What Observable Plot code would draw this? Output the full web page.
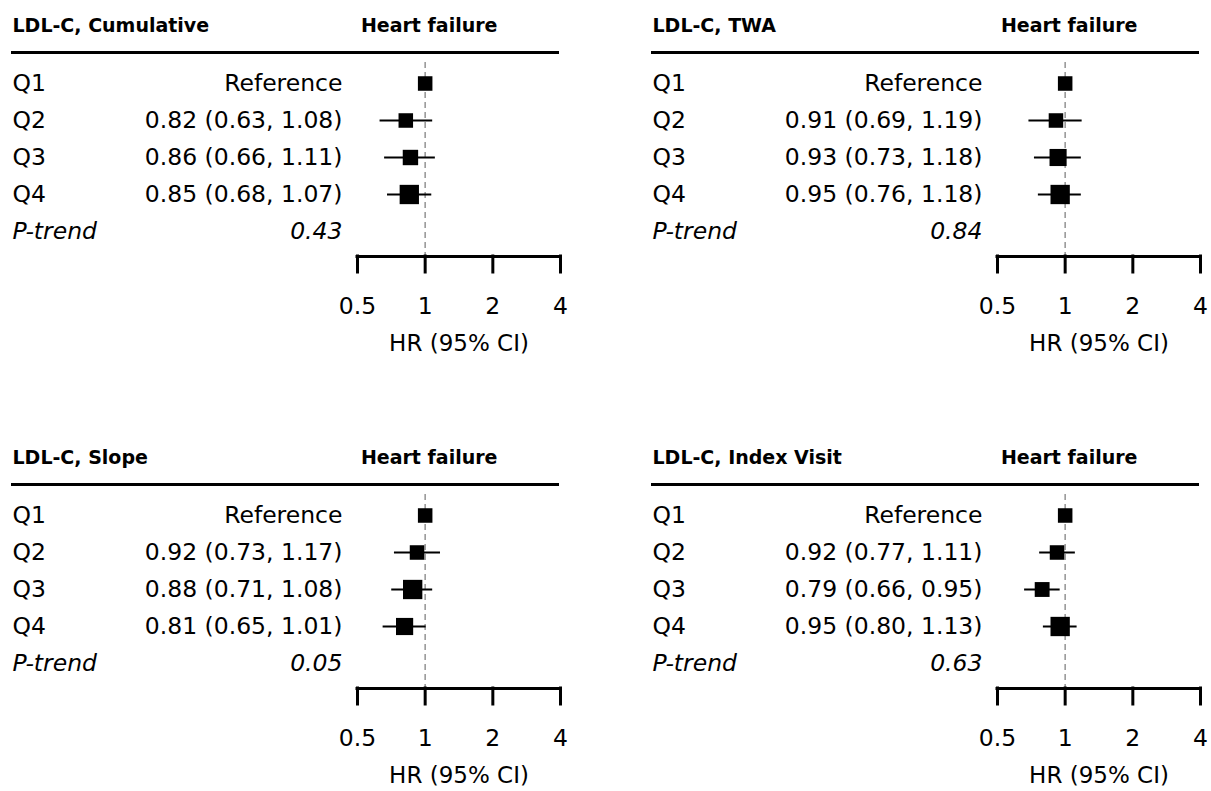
<!DOCTYPE html>
<html>
<head>
<meta charset="utf-8">
<script src="https://cdn.jsdelivr.net/npm/d3@7"></script>
<script src="https://cdn.jsdelivr.net/npm/@observablehq/plot@0.6"></script>
<style>
  html, body { margin: 0; padding: 0; background: #fff; overflow: hidden; }
  #wrap { position: relative; width: 1211px; height: 791px; }
  .panel { position: absolute; }
</style>
</head>
<body>
<div id="wrap"></div>
<script>
// ---- data ----
const panelTitles = ["LDL-C, Cumulative", "LDL-C, TWA", "LDL-C, Slope", "LDL-C, Index Visit"];
const outcomeLabel = "Heart failure";
const quartiles = ["Q1", "Q2", "Q3", "Q4"];
const trendLabel = "P-trend";
const referenceLabel = "Reference";
const axisTitle = "HR (95% CI)";
const xTicks = [0.5, 1, 2, 4];

// HR, lower, upper for Q2..Q4 (Q1 is reference = 1)
const hrCumulative = [0.82, 0.86, 0.85];
const loCumulative = [0.63, 0.66, 0.68];
const hiCumulative = [1.08, 1.11, 1.07];

const hrTWA = [0.91, 0.93, 0.95];
const loTWA = [0.69, 0.73, 0.76];
const hiTWA = [1.19, 1.18, 1.18];

const hrSlope = [0.92, 0.88, 0.81];
const loSlope = [0.73, 0.71, 0.65];
const hiSlope = [1.17, 1.08, 1.01];

const hrIndex = [0.92, 0.79, 0.95];
const loIndex = [0.77, 0.66, 0.80];
const hiIndex = [1.11, 0.95, 1.13];

const pTrend = ["0.43", "0.84", "0.05", "0.63"];

// ---- build ----
const series = [
  [hrCumulative, loCumulative, hiCumulative],
  [hrTWA, loTWA, hiTWA],
  [hrSlope, loSlope, hiSlope],
  [hrIndex, loIndex, hiIndex]
];
const positions = [[0, 0], [640, 0], [0, 432], [640, 432]];

const FONT = "'DejaVu Sans', sans-serif";
const ROWFS = 23.5;
const HEADFS = 19;

function panel(i) {
  const [hr, lo, hi] = series[i];
  const rows = hr.map((h, j) => ({
    q: quartiles[j + 1], hr: h, lo: lo[j], hi: hi[j],
    precision: 1 / Math.pow(Math.log(hi[j]) - Math.log(lo[j]), 2),
    label: `${h.toFixed(2)} (${lo[j].toFixed(2)}, ${hi[j].toFixed(2)})`
  }));
  const ref = [{q: quartiles[0], hr: 1, label: referenceLabel}];
  const labelRows = ref.concat(rows);
  const xMin = xTicks[0], xMax = xTicks[xTicks.length - 1];

  return Plot.plot({
    width: 571,
    height: 359,
    marginLeft: 12,
    marginRight: 14,
    marginTop: 52,
    marginBottom: 103,
    style: {fontFamily: FONT, background: "white", color: "black"},
    x: {type: "log", domain: [xMin, xMax], range: [357, 560]},
    y: {type: "point", domain: [...quartiles, trendLabel], range: [82, 231], padding: 0, axis: null},
    r: {type: "linear", domain: d3.extent(rows, d => d.precision), range: [8.2, 10.9]},
    marks: [
      // header rule
      Plot.frame({anchor: "top", stroke: "black", strokeWidth: 3}),
      // headers
      Plot.text([panelTitles[i]], {frameAnchor: "top-left", lineAnchor: "middle", dy: -27, textAnchor: "start", fontWeight: "bold", fontSize: HEADFS}),
      Plot.text([outcomeLabel], {x: 1, frameAnchor: "top", lineAnchor: "middle", dy: -27, dx: 4, fontWeight: "bold", fontSize: HEADFS}),
      // reference line
      Plot.ruleX([1], {stroke: "#9a9a9a", strokeWidth: 1.6, strokeDasharray: "6,4", insetTop: 10}),
      // axis line + ticks
      Plot.ruleY([trendLabel], {x1: xMin, x2: xMax, dy: 25, stroke: "black", strokeWidth: 3, strokeLinecap: "square"}),
      Plot.axisX(xTicks, {anchor: "bottom", tickSize: 16, strokeWidth: 3, strokeLinecap: "square",
        tickFormat: () => "", label: null}),
      Plot.text(xTicks, {x: d => d, text: d => String(d), frameAnchor: "bottom", lineAnchor: "middle", dy: 50, fontSize: ROWFS}),
      Plot.text([axisTitle], {x: () => Math.sqrt(xMin * xMax), text: d => d, frameAnchor: "bottom", lineAnchor: "middle", dy: 87, fontSize: 23}),
      // CIs
      Plot.ruleY(rows, {y: "q", x1: "lo", x2: "hi", stroke: "black", strokeWidth: 2}),
      // boxes
      Plot.dot(ref, {x: "hr", y: "q", r: 8.2, symbol: "square", fill: "black", stroke: null}),
      Plot.dot(rows, {x: "hr", y: "q", r: "precision", symbol: "square", fill: "black", stroke: null}),
      // left text columns
      Plot.text(quartiles, {y: d => d, text: d => d, frameAnchor: "left", textAnchor: "start", fontSize: ROWFS}),
      Plot.text([trendLabel], {y: d => d, text: d => d, frameAnchor: "left", textAnchor: "start", fontStyle: "italic", fontSize: ROWFS}),
      Plot.text(labelRows, {y: "q", text: "label", x: xMin, dx: -15, textAnchor: "end", fontSize: ROWFS}),
      Plot.text([pTrend[i]], {y: () => trendLabel, text: d => d, x: xMin, dx: -15, textAnchor: "end", fontStyle: "italic", fontSize: ROWFS})
    ]
  });
}

const wrap = document.getElementById("wrap");
for (let i = 0; i < 4; i++) {
  const div = document.createElement("div");
  div.className = "panel";
  div.style.left = positions[i][0] + "px";
  div.style.top = positions[i][1] + "px";
  div.appendChild(panel(i));
  wrap.appendChild(div);
}
</script>
</body>
</html>
